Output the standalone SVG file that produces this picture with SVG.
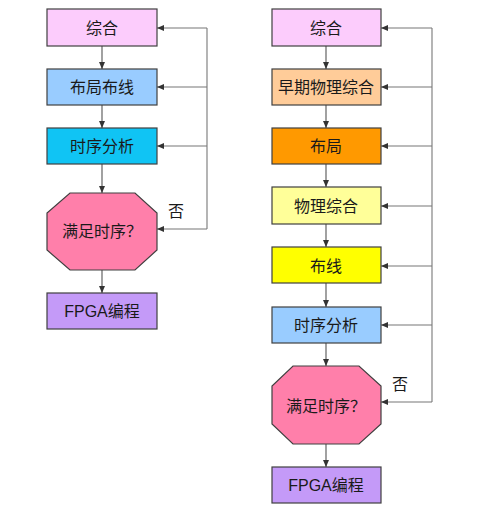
<svg xmlns="http://www.w3.org/2000/svg" width="479" height="516" viewBox="0 0 479 516">
<defs>
<marker id="ah" markerWidth="7" markerHeight="6" refX="7" refY="3" orient="auto" markerUnits="userSpaceOnUse">
<path d="M0,0 L7,3 L0,6 Z" fill="#333"/>
</marker>
<style>
.n{stroke:#404040;stroke-width:1.2}
.t{font-family:"Liberation Sans","Noto Sans CJK SC",sans-serif;font-size:16px;fill:#1a1a1a;text-anchor:middle;dominant-baseline:central}
.c{fill:none;stroke:#555;stroke-width:1.1}
.f{fill:none;stroke:#777;stroke-width:1.1}
</style>
</defs>
<rect width="479" height="516" fill="#fff"/>
<g id="connectors">
<line class="c" x1="102" y1="46" x2="102" y2="69" marker-end="url(#ah)"/>
<line class="c" x1="102" y1="105" x2="102" y2="128" marker-end="url(#ah)"/>
<line class="c" x1="102" y1="164" x2="102" y2="193" marker-end="url(#ah)"/>
<line class="c" x1="102" y1="270" x2="102" y2="293" marker-end="url(#ah)"/>
<polyline class="f" points="207,229 207,28"/>
<line class="f" x1="207" y1="229" x2="157" y2="229" marker-end="url(#ah)"/>
<line class="f" x1="207" y1="28" x2="157" y2="28" marker-end="url(#ah)"/>
<line class="f" x1="207" y1="87" x2="157" y2="87" marker-end="url(#ah)"/>
<line class="f" x1="207" y1="146" x2="157" y2="146" marker-end="url(#ah)"/>
<line class="c" x1="326" y1="46" x2="326" y2="69" marker-end="url(#ah)"/>
<line class="c" x1="326" y1="105" x2="326" y2="128" marker-end="url(#ah)"/>
<line class="c" x1="326" y1="164" x2="326" y2="187" marker-end="url(#ah)"/>
<line class="c" x1="326" y1="224" x2="326" y2="247" marker-end="url(#ah)"/>
<line class="c" x1="326" y1="283" x2="326" y2="307" marker-end="url(#ah)"/>
<line class="c" x1="326" y1="343" x2="326" y2="366" marker-end="url(#ah)"/>
<line class="c" x1="326" y1="444" x2="326" y2="467" marker-end="url(#ah)"/>
<polyline class="f" points="432,402 432,28"/>
<line class="f" x1="432" y1="402" x2="381" y2="402" marker-end="url(#ah)"/>
<line class="f" x1="432" y1="28" x2="381" y2="28" marker-end="url(#ah)"/>
<line class="f" x1="432" y1="87" x2="381" y2="87" marker-end="url(#ah)"/>
<line class="f" x1="432" y1="146" x2="381" y2="146" marker-end="url(#ah)"/>
<line class="f" x1="432" y1="206" x2="381" y2="206" marker-end="url(#ah)"/>
<line class="f" x1="432" y1="266" x2="381" y2="266" marker-end="url(#ah)"/>
<line class="f" x1="432" y1="325" x2="381" y2="325" marker-end="url(#ah)"/>
<text class="t" x="176" y="211">否</text>
<text class="t" x="400" y="384">否</text>
</g>
<g id="L1"><rect class="n" x="47" y="9" width="110" height="37" fill="#FCCCFC"/><text class="t" x="102" y="28">综合</text></g>
<g id="L2"><rect class="n" x="47" y="69" width="110" height="36" fill="#99CCFF"/><text class="t" x="102" y="87">布局布线</text></g>
<g id="L3"><rect class="n" x="47" y="128" width="110" height="36" fill="#10C4F4"/><text class="t" x="102" y="146">时序分析</text></g>
<g id="L4"><polygon class="n" points="70,193 135,193 157,213 157,250 135,270 70,270 47,250 47,213" fill="#FF7FAA"/><text class="t" x="102" y="231">满足时序？</text></g>
<g id="L5"><rect class="n" x="47" y="293" width="110" height="36" fill="#C49AF8"/><text class="t" x="102" y="311">FPGA编程</text></g>
<g id="R1"><rect class="n" x="272" y="9" width="109" height="37" fill="#FCCCFC"/><text class="t" x="326" y="28">综合</text></g>
<g id="R2"><rect class="n" x="272" y="69" width="109" height="36" fill="#FFCC99"/><text class="t" x="326" y="87">早期物理综合</text></g>
<g id="R3"><rect class="n" x="272" y="128" width="109" height="36" fill="#FF9900"/><text class="t" x="326" y="146">布局</text></g>
<g id="R4"><rect class="n" x="272" y="187" width="109" height="37" fill="#FFFF99"/><text class="t" x="326" y="206">物理综合</text></g>
<g id="R5"><rect class="n" x="272" y="247" width="109" height="36" fill="#FFFF00"/><text class="t" x="326" y="266">布线</text></g>
<g id="R6"><rect class="n" x="272" y="307" width="109" height="36" fill="#99CCFF"/><text class="t" x="326" y="325">时序分析</text></g>
<g id="R7"><polygon class="n" points="293,366 359,366 381,386 381,424 359,444 293,444 272,424 272,386" fill="#FF7FAA"/><text class="t" x="326" y="406">满足时序？</text></g>
<g id="R8"><rect class="n" x="272" y="467" width="109" height="36" fill="#C49AF8"/><text class="t" x="326" y="485">FPGA编程</text></g>
</svg>
